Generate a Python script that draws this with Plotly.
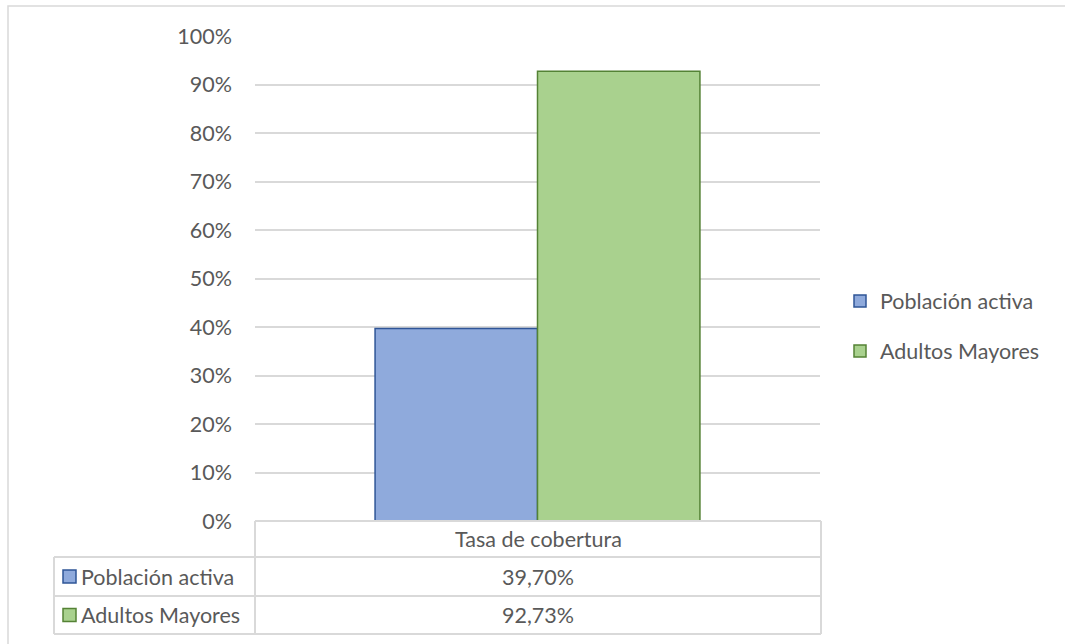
import plotly.graph_objects as go

# Coverage rates by population group
categories = ["Tasa de cobertura"]
series_names = ["Población activa", "Adultos Mayores"]
poblacion_activa = [0.3970]
adultos_mayores = [0.9273]
tick_vals = [0, 0.1, 0.2, 0.3, 0.4, 0.5, 0.6, 0.7, 0.8, 0.9, 1.0]
tick_text = ["0%", "10%", "20%", "30%", "40%", "50%", "60%", "70%", "80%", "90%", "100%"]

fills = ["#8faadc", "#a9d18e"]
borders = ["#2f5597", "#548235"]
text_color = "#595959"
grid_color = "#d9d9d9"
font_family = "Lato, 'Open Sans', sans-serif"
font_size = 21.5

W, H = 1065, 644
L, R, T, B = 255, 245, 36, 123
plot_w = W - L - R
plot_h = H - T - B


def px_x(x):
    return (x - L) / plot_w


def px_y(y):
    return (H - B - y) / plot_h


fig = go.Figure()
for name, vals, fc, lc in zip(series_names, [poblacion_activa, adultos_mayores], fills, borders):
    fig.add_trace(go.Bar(
        x=categories, y=vals, name=name, legendgroup=name,
        marker=dict(color=fc, line=dict(color=lc, width=1.5)),
        hovertemplate="%{x}: %{y:.2%}<extra>" + name + "</extra>",
    ))

shapes = []
annotations = []

# chart frame
shapes.append(dict(type="rect", xref="paper", yref="paper",
                   x0=px_x(8), x1=px_x(1075), y0=px_y(6), y1=px_y(660),
                   line=dict(color=grid_color, width=1.5), fillcolor="rgba(0,0,0,0)", layer="below"))

# data table grid
tbl_top, row1, row2, tbl_bot = 521, 557, 596, 634
tbl_left, col_split, tbl_right = 54, 255, 821
line_style = dict(color=grid_color, width=2)
for (x0, y0, x1, y1) in [
    (col_split, tbl_top, tbl_right, tbl_top),
    (tbl_left, row1, tbl_right, row1),
    (tbl_left, row2, tbl_right, row2),
    (tbl_left, tbl_bot, tbl_right, tbl_bot),
    (tbl_left, row1, tbl_left, tbl_bot),
    (col_split, tbl_top, col_split, tbl_bot),
    (tbl_right, tbl_top, tbl_right, tbl_bot),
]:
    shapes.append(dict(type="line", xref="paper", yref="paper",
                       x0=px_x(x0), y0=px_y(y0), x1=px_x(x1), y1=px_y(y1),
                       line=line_style))

table_font = dict(family=font_family, size=font_size, color=text_color)
center_x = px_x((col_split + tbl_right) / 2)
annotations.append(dict(text=categories[0], xref="paper", yref="paper",
                        x=center_x, y=px_y((tbl_top + row1) / 2),
                        xanchor="center", yanchor="middle", showarrow=False, font=table_font))

row_bounds = [(row1, row2), (row2, tbl_bot)]
for name, vals, fc, lc, (ra, rb) in zip(series_names, [poblacion_activa, adultos_mayores],
                                         fills, borders, row_bounds):
    yc = (ra + rb) / 2
    shapes.append(dict(type="rect", xref="paper", yref="paper",
                       x0=px_x(63), x1=px_x(76), y0=px_y(yc - 6.5), y1=px_y(yc + 6.5),
                       fillcolor=fc, line=dict(color=lc, width=1.5)))
    annotations.append(dict(text=name, xref="paper", yref="paper",
                            x=px_x(79), y=px_y(yc), xanchor="left", yanchor="middle",
                            showarrow=False, font=table_font))
    label = f"{vals[0] * 100:.2f}%".replace(".", ",")
    annotations.append(dict(text=label, xref="paper", yref="paper",
                            x=center_x, y=px_y(yc), xanchor="center", yanchor="middle",
                            showarrow=False, font=table_font))

fig.update_layout(
    width=W, height=H,
    margin=dict(l=L, r=R, t=T, b=B, autoexpand=False),
    paper_bgcolor="white", plot_bgcolor="white",
    font=dict(family=font_family, size=font_size, color=text_color),
    barmode="group", bargap=0.425, bargroupgap=0,
    showlegend=True,
    legend=dict(x=px_x(840), xanchor="left", y=px_y(326), yanchor="middle",
                traceorder="grouped", tracegroupgap=19,
                font=dict(family=font_family, size=font_size, color=text_color),
                bgcolor="rgba(0,0,0,0)"),
    xaxis=dict(showticklabels=False, showgrid=False, zeroline=False, showline=False,
               fixedrange=True),
    yaxis=dict(range=[0, 1], tickvals=tick_vals, ticktext=tick_text,
               showgrid=True, gridcolor=grid_color, gridwidth=1.5,
               zeroline=False, showline=False, ticks="", ticklabelstandoff=22,
               tickfont=dict(family=font_family, size=font_size, color=text_color)),
    shapes=shapes, annotations=annotations,
)

fig.write_html("out.html")
